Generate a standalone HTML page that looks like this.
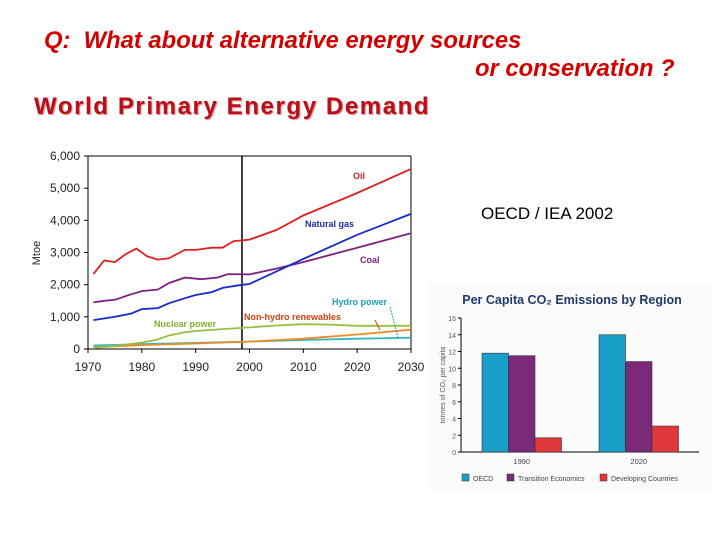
<!DOCTYPE html>
<html><head><meta charset="utf-8"><style>
body{margin:0;width:720px;height:540px;background:#fff;overflow:hidden;position:relative;font-family:"Liberation Sans",sans-serif}
.abs{position:absolute;margin:0}
</style></head><body>
<div class="abs" style="left:44px;top:27px;font-size:23.8px;font-weight:bold;font-style:italic;color:#d40000;white-space:nowrap">Q:&nbsp; What about alternative energy sources</div>
<div class="abs" style="left:475px;top:55px;font-size:23.8px;font-weight:bold;font-style:italic;color:#d40000;white-space:nowrap">or conservation ?</div>
<div class="abs" style="left:34px;top:93px;font-size:24px;font-weight:bold;color:#b8101a;white-space:nowrap;letter-spacing:1.6px;text-shadow:1px 1px 1px #e08080">World Primary Energy Demand</div>
<div class="abs" style="left:481px;top:204px;font-size:17px;color:#000;white-space:nowrap">OECD / IEA 2002</div>

<svg id="line" class="abs" style="left:0;top:0" width="720" height="540"></svg>
<svg id="bars" class="abs" style="left:0;top:0" width="720" height="540"></svg>

<script>
// ---- Line chart data ----
const oilYears=[1971,1973,1975,1977,1979,1981,1983,1985,1988,1990,1993,1995,1997,2000,2005,2010,2020,2030];
const oilVals=[2330,2750,2700,2950,3120,2880,2780,2820,3080,3080,3150,3150,3350,3400,3700,4150,4850,5600];
const gasYears=[1971,1975,1978,1980,1983,1985,1988,1990,1993,1995,1998,2000,2010,2020,2030];
const gasVals=[900,1000,1100,1240,1270,1420,1580,1680,1770,1900,1980,2020,2800,3550,4200];
const coalYears=[1971,1973,1975,1978,1980,1983,1985,1988,1991,1994,1996,2000,2005,2010,2020,2030];
const coalVals=[1450,1500,1530,1700,1800,1850,2050,2220,2170,2220,2330,2320,2500,2700,3150,3600];
const nucYears=[1971,1975,1980,1983,1985,1988,1990,1995,2000,2005,2010,2015,2020,2030];
const nucVals=[30,100,200,300,420,520,560,620,670,730,770,760,720,720];
const renYears=[1971,1980,1990,2000,2010,2020,2030];
const renVals=[50,120,170,230,320,450,600];
const hydYears=[1971,1980,1990,2000,2010,2020,2030];
const hydVals=[110,150,190,230,280,320,350];
const yTicks=[0,1000,2000,3000,4000,5000,6000];
const yTickLabels=["0","1,000","2,000","3,000","4,000","5,000","6,000"];
const xTicks=[1970,1980,1990,2000,2010,2020,2030];
const baseYear=1998.6;

// ---- Bar chart data ----
const barCats=["1990","2020"];
const oecdVals=[11.8,14.0];
const transVals=[11.5,10.8];
const devVals=[1.7,3.1];
const barTicks=[0,2,4,6,8,10,12,14,16];

const NS="http://www.w3.org/2000/svg";
function mk(svg,tag,attrs,text){const e=document.createElementNS(NS,tag);for(const k in attrs)e.setAttribute(k,attrs[k]);if(text!==undefined)e.textContent=text;svg.appendChild(e);return e;}

// line chart
const L=document.getElementById('line');
const X=y=>88+(y-1970)*(323/60);
const Y=v=>349-v*(193/6000);
let e;
e=mk(L,'line',{x1:88,y1:156,x2:88,y2:349,stroke:'#000','stroke-width':1});

e=mk(L,'line',{x1:88,y1:349,x2:411,y2:349,stroke:'#000','stroke-width':1});

e=mk(L,'line',{x1:411,y1:156,x2:411,y2:349,stroke:'#000','stroke-width':1});

e=mk(L,'line',{x1:88,y1:156,x2:411,y2:156,stroke:'#000','stroke-width':1});

yTicks.forEach((t,i)=>{
  mk(L,'line',{x1:84,y1:Y(t),x2:88,y2:Y(t),stroke:'#000'});
  e=mk(L,'text',{x:80,y:Y(t)+4,'text-anchor':'end','font-size':12,fill:'#222'},yTickLabels[i]);
  
});
xTicks.forEach(t=>{
  mk(L,'line',{x1:X(t),y1:349,x2:X(t),y2:353,stroke:'#000'});
  e=mk(L,'text',{x:X(t),y:371,'text-anchor':'middle','font-size':12,fill:'#222'},String(t));
  
});
e=mk(L,'text',{x:40,y:253,'text-anchor':'middle','font-size':11,fill:'#222',transform:'rotate(-90 40 253)'},'Mtoe');

e=mk(L,'line',{x1:X(baseYear),y1:156,x2:X(baseYear),y2:349,stroke:'#000','stroke-width':1.5});

function series(xs,vs,color,name){
  const d=xs.map((x,i)=>(i?'L':'M')+X(x).toFixed(1)+' '+Y(vs[i]).toFixed(1)).join(' ');
  const p=mk(L,'path',{d:d,fill:'none',stroke:color,'stroke-width':1.8});
  
  
}
series(hydYears,hydVals,'#30b8c0','hydro-line');
series(renYears,renVals,'#f08a20','renewables-line');
series(nucYears,nucVals,'#98c040','nuclear-line');
series(coalYears,coalVals,'#802080','coal-line');
series(gasYears,gasVals,'#1a28d0','gas-line');
series(oilYears,oilVals,'#e02020','oil-line');
function lbl(x,y,t,c,name){e=mk(L,'text',{x:x,y:y,'font-size':9,'font-weight':'bold',fill:c},t);}
lbl(353,179,'Oil','#d02020','oil-label');
lbl(305,227,'Natural gas','#1a30a0','gas-label');
lbl(360,263,'Coal','#802080','coal-label');
lbl(332,305,'Hydro power','#20a0b0','hydro-label');
lbl(244,320,'Non-hydro renewables','#d04010','renewables-label');
lbl(154,327,'Nuclear power','#80b030','nuclear-label');
mk(L,'line',{x1:375,y1:320,x2:380,y2:330,stroke:'#d04010'});
mk(L,'line',{x1:390,y1:307,x2:398,y2:337,stroke:'#20a0b0','stroke-dasharray':'2,1'});

// bar chart
const B=document.getElementById('bars');
e=mk(B,'rect',{x:428,y:283,width:284,height:207,fill:'#fbfbfb'});

e=mk(B,'text',{x:572,y:304,'text-anchor':'middle','font-size':12.5,'font-weight':'bold',fill:'#1f3a6a'},'Per Capita CO\u2082 Emissions by Region');

const BY=v=>452-v*(134/16);
const groupX=[482,599];
const bw=26.5;
mk(B,'line',{x1:461,y1:318,x2:461,y2:452,stroke:'#000'});
mk(B,'line',{x1:461,y1:452,x2:699,y2:452,stroke:'#000'});
barTicks.forEach(t=>{
  mk(B,'line',{x1:458,y1:BY(t),x2:461,y2:BY(t),stroke:'#000'});
  e=mk(B,'text',{x:456,y:BY(t)+3,'text-anchor':'end','font-size':7,fill:'#555'},String(t));
  
});
e=mk(B,'text',{x:445,y:385,'text-anchor':'middle','font-size':7,fill:'#555',transform:'rotate(-90 445 385)'},'tonnes of CO\u2082 per capita');

const seriesList=[[oecdVals,'#1aa0c8','oecd'],[transVals,'#7a2a78','transition'],[devVals,'#e0383a','developing']];
barCats.forEach((c,gi)=>{
  seriesList.forEach((s,si)=>{
    const r=mk(B,'rect',{x:groupX[gi]+si*bw,y:BY(s[0][gi]),width:bw,height:452-BY(s[0][gi]),fill:s[1],stroke:'#333','stroke-width':0.6});
    
    
  });
  e=mk(B,'text',{x:groupX[gi]+bw*1.5,y:464,'text-anchor':'middle','font-size':7.5,fill:'#444'},c);
  
});
const legend=[['OECD','#1aa0c8',462],['Transition Economics','#7a2a78',507],['Developing Countries','#e0383a',600]];
legend.forEach(l=>{
  const r=mk(B,'rect',{x:l[2],y:474,width:7,height:7,fill:l[1],stroke:'#333','stroke-width':0.5});
  
  e=mk(B,'text',{x:l[2]+11,y:481,'font-size':7,fill:'#444'},l[0]);
  
});
</script>
</body></html>
